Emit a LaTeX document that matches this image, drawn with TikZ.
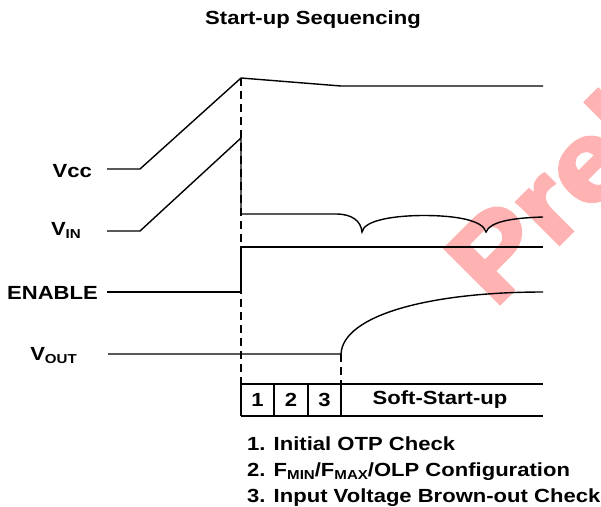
\documentclass[tikz,border=0pt]{standalone}
\usepackage{fontspec}
\setmainfont{Liberation Sans}[FakeStretch=1.16]
\newfontfamily\wmfont{Liberation Sans}[FakeBold=3.5, FakeStretch=1.12]
\definecolor{wm}{RGB}{255,178,178}
\tikzset{
  sig/.style={line width=1.4pt, line join=miter},
  guide/.style={line width=1.2pt, dash pattern=on 8pt off 5pt},
  lbl/.style={font=\fontsize{19}{22}\selectfont\bfseries, inner sep=0pt},
}
\newcommand{\lowsub}[1]{\raisebox{-3pt}{\fontsize{13}{13}\selectfont #1}}
\begin{document}
\begin{tikzpicture}[x=1pt,y=-1pt]
\useasboundingbox (0,0) rectangle (601,506);
\begin{scope}
\clip (0,0) rectangle (601,506);
\node[font=\fontsize{112}{112}\selectfont\wmfont\bfseries, text=wm, rotate=45, anchor=base west, inner sep=0pt] (wmk) at (494,309) {Preliminary};
\end{scope}

% title
\node[lbl] (title) at (313,20) {Start-up Sequencing};

% signal labels
\node[lbl, anchor=base east] (lvcc) at (92,177) {Vcc};
\node[lbl, anchor=base east] (lvin) at (81,235) {V\lowsub{IN}};
\node[lbl, anchor=base east] (len) at (98,299) {ENABLE};
\node[lbl, anchor=base east] (lvout) at (77,360) {V\lowsub{OUT}};

% coordinates
\coordinate (t0) at (241,78);
\coordinate (t0b) at (241,384);
\coordinate (t1) at (341,354);
\coordinate (t1b) at (341,384);

% guides
\draw[guide] (t0) -- (t0b);
\draw[guide] (t1) -- (t1b);

% Vcc
\coordinate (vcc0) at (107,169);
\coordinate (vcc1) at (140,169);
\coordinate (vcc2) at (341,86);
\coordinate (vcc3) at (543,86);
\draw[sig] (vcc0) -- (vcc1) -- (t0) -- (vcc2) -- (vcc3);

% VIN
\coordinate (vin0) at (107,231);
\coordinate (vin1) at (140,231);
\coordinate (vin2) at (241,138);
\coordinate (vin3) at (241,214);
\coordinate (vin4) at (336,214);
\coordinate (cusp1) at (362,232);
\coordinate (vtop) at (424,215.5);
\coordinate (cusp2) at (486,232);
\coordinate (vin5) at (543,217);
\draw[sig] (vin0) -- (vin1) -- (vin2) -- (vin3) -- (vin4)
  .. controls (352,214) and (361,221) .. (cusp1)
  .. controls (364,220) and (395,215.5) .. (vtop)
  .. controls (455,215.5) and (483,220) .. (cusp2)
  .. controls (490,222) and (510,218) .. (vin5);

% ENABLE
\coordinate (en0) at (107,292);
\coordinate (en1) at (241,292);
\coordinate (en2) at (241,247);
\coordinate (en3) at (543,247);
\draw[sig] (en0) -- (en1) -- (en2) -- (en3);

% VOUT
\coordinate (vo0) at (108,354);
\coordinate (vo1) at (543,292);
\draw[sig] (vo0) -- (t1) .. controls (343,315) and (430,292) .. (vo1);

% phase box
\coordinate (bxr) at (543,384);
\coordinate (bbl) at (241,416);
\coordinate (bbr) at (543,416);
\coordinate (d1t) at (274,384);
\coordinate (d1b) at (274,416);
\coordinate (d2t) at (308,384);
\coordinate (d2b) at (308,416);
\coordinate (d3b) at (341,416);
\draw[sig] (t0b) -- (bxr);
\draw[sig] (bbl) -- (bbr);
\draw[sig] (t0b) -- (bbl);
\draw[sig] (d1t) -- (d1b);
\draw[sig] (d2t) -- (d2b);
\draw[sig] (t1b) -- (d3b);
\node[lbl] (p1) at (257.5,400) {1};
\node[lbl] (p2) at (291,400) {2};
\node[lbl] (p3) at (324.5,400) {3};
\node[lbl] (ss) at (440,400) {Soft-Start-up};

% legend
\node[lbl, anchor=base west] (l1) at (247,450) {1. Initial OTP Check};
\node[lbl, anchor=base west] (l2) at (247,476) {2. F\lowsub{MIN}/F\lowsub{MAX}/OLP Configuration};
\node[lbl, anchor=base west] (l3) at (247,502) {3. Input Voltage Brown-out Check};
\end{tikzpicture}
\end{document}
